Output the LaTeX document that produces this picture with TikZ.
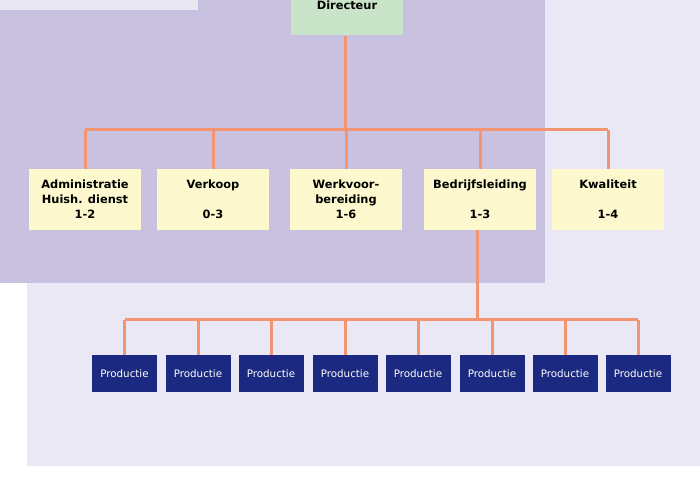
\documentclass[tikz,border=0pt]{standalone}
\usepackage{fontspec}
\setmainfont{DejaVu Sans}
\usetikzlibrary{positioning}
\usetikzlibrary{calc}

\definecolor{lila}{RGB}{200,193,224}
\definecolor{lilalight}{RGB}{234,232,244}
\definecolor{topstrip}{RGB}{233,231,241}
\definecolor{groen}{RGB}{201,228,201}
\definecolor{geel}{RGB}{253,248,205}
\definecolor{navy}{RGB}{27,42,128}
\definecolor{zalm}{RGB}{243,149,112}

\begin{document}
\begin{tikzpicture}[x=1pt,y=1pt,
  staf/.style={fill=geel,minimum width=112pt,minimum height=61pt,align=center,
    font=\bfseries\fontsize{11.4}{15}\selectfont,inner sep=0pt},
  prod/.style={fill=navy,text=white,minimum width=65pt,minimum height=37pt,
    font=\fontsize{10.3}{12}\selectfont,inner sep=0pt},
  link/.style={draw=zalm,line width=3pt}]
\useasboundingbox (0,0) rectangle (700,500);
\clip (0,0) rectangle (700,500);
\fill[white] (0,0) rectangle (700,500);
\fill[lilalight] (27,34) rectangle (700,500);
\fill[lila] (0,217) rectangle (545,500);
\fill[topstrip] (0,490) rectangle (198,500);

% lines
\coordinate (bus1) at (345,370);
\coordinate (bus2) at (477,180);

% director
\node[staf,fill=groen] (dir) at (347,495) {Directeur};

% staff level
\node[staf] (adm) at (85,300.5) {Administratie\\Huish. dienst\\1-2};
\node[staf] (verk) at (213,300.5) {Verkoop\\~\\0-3};
\node[staf] (wvb) at (346,300.5) {Werkvoor-\\bereiding\\1-6};
\node[staf] (bedr) at (480,300.5) {Bedrijfsleiding\\~\\1-3};
\node[staf] (kwal) at (608,300.5) {Kwaliteit\\~\\1-4};

% production level
\node[prod] (p1) at (124.5,126.5) {Productie};
\node[prod] (p2) at (198,126.5) {Productie};
\node[prod] (p3) at (271,126.5) {Productie};
\node[prod] (p4) at (345,126.5) {Productie};
\node[prod] (p5) at (418,126.5) {Productie};
\node[prod] (p6) at (492,126.5) {Productie};
\node[prod] (p7) at (565,126.5) {Productie};
\node[prod] (p8) at (638,126.5) {Productie};

\draw[link] (dir.south -| bus1) -- (bus1);
\draw[link] (bus1 -| adm) -- (bus1 -| kwal);
\foreach \n in {adm,verk,wvb,bedr,kwal}
  \draw[link] (bus1 -| \n) -- (\n.north);

\draw[link] (bedr.south -| bus2) -- (bus2);
\draw[link] (bus2 -| p1) -- (bus2 -| p8);
\foreach \n in {p1,p2,p3,p4,p5,p6,p7,p8}
  \draw[link] (bus2 -| \n) -- (\n.north);
\end{tikzpicture}
\end{document}
